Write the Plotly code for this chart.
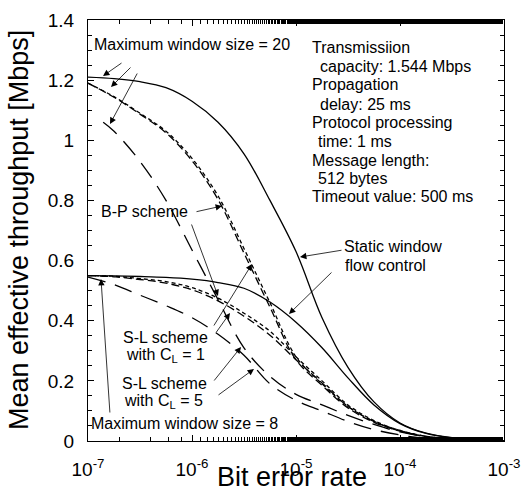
import plotly.graph_objects as go

# ---------------- data ----------------
ber = [1e-7, 1.78e-7, 3.16e-7, 5.62e-7, 1e-6, 1.78e-6, 3.16e-6, 5.62e-6,
       1e-5, 1.78e-5, 3.16e-5, 5.62e-5, 1e-4, 1.78e-4, 3.16e-4, 5.62e-4, 1e-3]

w20_static = [1.21, 1.205, 1.195, 1.175, 1.13, 1.06, 0.955, 0.80, 0.63, 0.41,
              0.245, 0.13, 0.06, 0.026, 0.011, 0.004, 0.0015]
w20_bp = [1.19, 1.145, 1.09, 1.03, 0.94, 0.815, 0.64, 0.46, 0.28, 0.19,
          0.115, 0.065, 0.035, 0.016, 0.007, 0.0025, 0.001]
w20_sl1 = [1.19, 1.143, 1.087, 1.025, 0.932, 0.803, 0.625, 0.445, 0.27, 0.185,
           0.11, 0.062, 0.033, 0.015, 0.0065, 0.0023, 0.001]
ber_w20_sl5 = [1.4e-7, 1.78e-7, 3.16e-7, 5.62e-7, 1e-6, 1.78e-6, 3.16e-6, 5.62e-6,
               1e-5, 1.78e-5, 3.16e-5, 5.62e-5, 1e-4, 1.78e-4, 3.16e-4, 5.62e-4, 1e-3]
w20_sl5 = [1.06, 1.03, 0.93, 0.80, 0.635, 0.47, 0.31, 0.215, 0.155, 0.12,
           0.085, 0.055, 0.03, 0.014, 0.006, 0.002, 0.001]

w8_static = [0.55, 0.549, 0.547, 0.544, 0.538, 0.527, 0.508, 0.462, 0.395, 0.31,
             0.21, 0.12, 0.058, 0.025, 0.01, 0.004, 0.0015]
w8_bp = [0.55, 0.548, 0.54, 0.53, 0.51, 0.475, 0.425, 0.365, 0.28, 0.2,
         0.12, 0.068, 0.035, 0.015, 0.006, 0.002, 0.001]
w8_sl1 = [0.55, 0.546, 0.537, 0.525, 0.503, 0.466, 0.415, 0.352, 0.27, 0.193,
          0.115, 0.065, 0.033, 0.014, 0.0055, 0.002, 0.001]
w8_sl5 = [0.545, 0.52, 0.485, 0.45, 0.41, 0.355, 0.285, 0.19, 0.135, 0.10,
          0.065, 0.038, 0.02, 0.009, 0.004, 0.0015, 0.0005]

x_tickvals = [1e-7, 1e-6, 1e-5, 1e-4, 1e-3]
x_ticktext = ["10<sup>-7</sup>", "10<sup>-6</sup>", "10<sup>-5</sup>",
              "10<sup>-4</sup>", "10<sup>-3</sup>"]

FONT = "Liberation Sans, Arial, Helvetica, sans-serif"

fig = go.Figure()

def add(x, y, dash):
    fig.add_trace(go.Scatter(x=x, y=y, mode="lines", line_shape="spline",
                             line=dict(color="black", width=1.3, dash=dash),
                             showlegend=False, hoverinfo="skip"))

add(ber, w20_static, "solid")
add(ber, w20_bp, "4px,3px")
add(ber, w20_sl1, "8px,4px")
add(ber_w20_sl5, w20_sl5, "18px,10px")
add(ber, w8_static, "solid")
add(ber, w8_bp, "4px,3px")
add(ber, w8_sl1, "8px,4px")
add(ber, w8_sl5, "18px,10px")

# plot-area pixel geometry used to place annotations
L, R, T, B = 88, 504, 20, 441

def px(xp):
    return (xp - L) / (R - L)

def py(yp):
    return (B - yp) / (B - T)

def label(text, x, y, size=16, anchor="left", angle=0):
    fig.add_annotation(text=text, x=px(x), y=py(y), xref="paper", yref="paper",
                       xanchor=anchor, yanchor="middle", showarrow=False,
                       textangle=angle,
                       font=dict(size=size, family=FONT, color="black"))

def arrow(tail, head):
    fig.add_annotation(text="", x=px(head[0]), y=py(head[1]),
                       xref="paper", yref="paper",
                       ax=tail[0] - head[0], ay=tail[1] - head[1],
                       showarrow=True, arrowhead=2, arrowsize=1.6,
                       arrowwidth=0.8, arrowcolor="black")

label("Maximum window size = 20", 92, 45)
right_lines = [("Transmissiion", 310, 47), ("capacity: 1.544 Mbps", 318, 66),
               ("Propagation", 310, 85), ("delay: 25 ms", 318, 104),
               ("Protocol processing", 310, 122), ("time: 1 ms", 316, 141),
               ("Message length:", 310, 160), ("512 bytes", 316, 178),
               ("Timeout value: 500 ms", 310, 197)]
for t, x, y in right_lines:
    label(t, x, y)
label("B-P scheme", 99, 212)
label("Static window", 342, 246)
label("flow control", 343, 265)
label("S-L scheme", 121, 337)
label("with C<sub>L</sub> = 1", 124, 355)
label("S-L scheme", 120, 383)
label("with C<sub>L</sub> = 5", 122, 401)
label("Maximum window size = 8", 89, 423)

# axis titles
label("Bit error rate", 292, 477, size=27, anchor="center")
label("Mean effective throughput [Mbps]", 19, 230, size=27, anchor="center", angle=-90)

arrow((123, 62), (103, 76))
arrow((132, 66), (111, 87))
arrow((138, 72), (110, 124))
arrow((195, 212), (222, 206))
arrow((191, 223), (218, 296))
arrow((213, 327), (252, 264))
arrow((215, 334), (230, 313))
arrow((213, 382), (241, 347))
arrow((217, 396), (254, 369))
arrow((343, 250), (300, 257))
arrow((333, 271), (289, 314))
arrow((110, 414), (101, 279))

fig.update_layout(
    width=527, height=500,
    margin=dict(l=L, r=527 - R, t=T, b=500 - B, autoexpand=False),
    plot_bgcolor="white", paper_bgcolor="white",
    font=dict(family=FONT, color="black", size=19),
    xaxis=dict(type="log", range=[-7, -3], tickvals=x_tickvals, ticktext=x_ticktext,
               ticks="inside", ticklen=6, tickwidth=1, tickcolor="black",
               showline=True, linecolor="black", linewidth=1.3, mirror="ticks",
               showgrid=False, zeroline=False, automargin=False,
               ticklabelstandoff=11,
               minor=dict(ticks="inside", ticklen=3.5, tickcolor="black", showgrid=False),
               tickfont=dict(size=19)),
    yaxis=dict(range=[0, 1.4], dtick=0.2, ticks="inside", ticklen=6, tickwidth=1,
               tickcolor="black", showline=True, linecolor="black", linewidth=1.3,
               mirror="ticks", showgrid=False, zeroline=False, automargin=False,
               ticklabelstandoff=9,
               minor=dict(dtick=0.05, ticks="inside", ticklen=3.5, tickcolor="black",
                          showgrid=False),
               tickfont=dict(size=19)),
)

fig.write_html("out.html", config={"displayModeBar": False},
               post_script="document.body.style.margin='0';document.body.style.overflow='hidden';")
